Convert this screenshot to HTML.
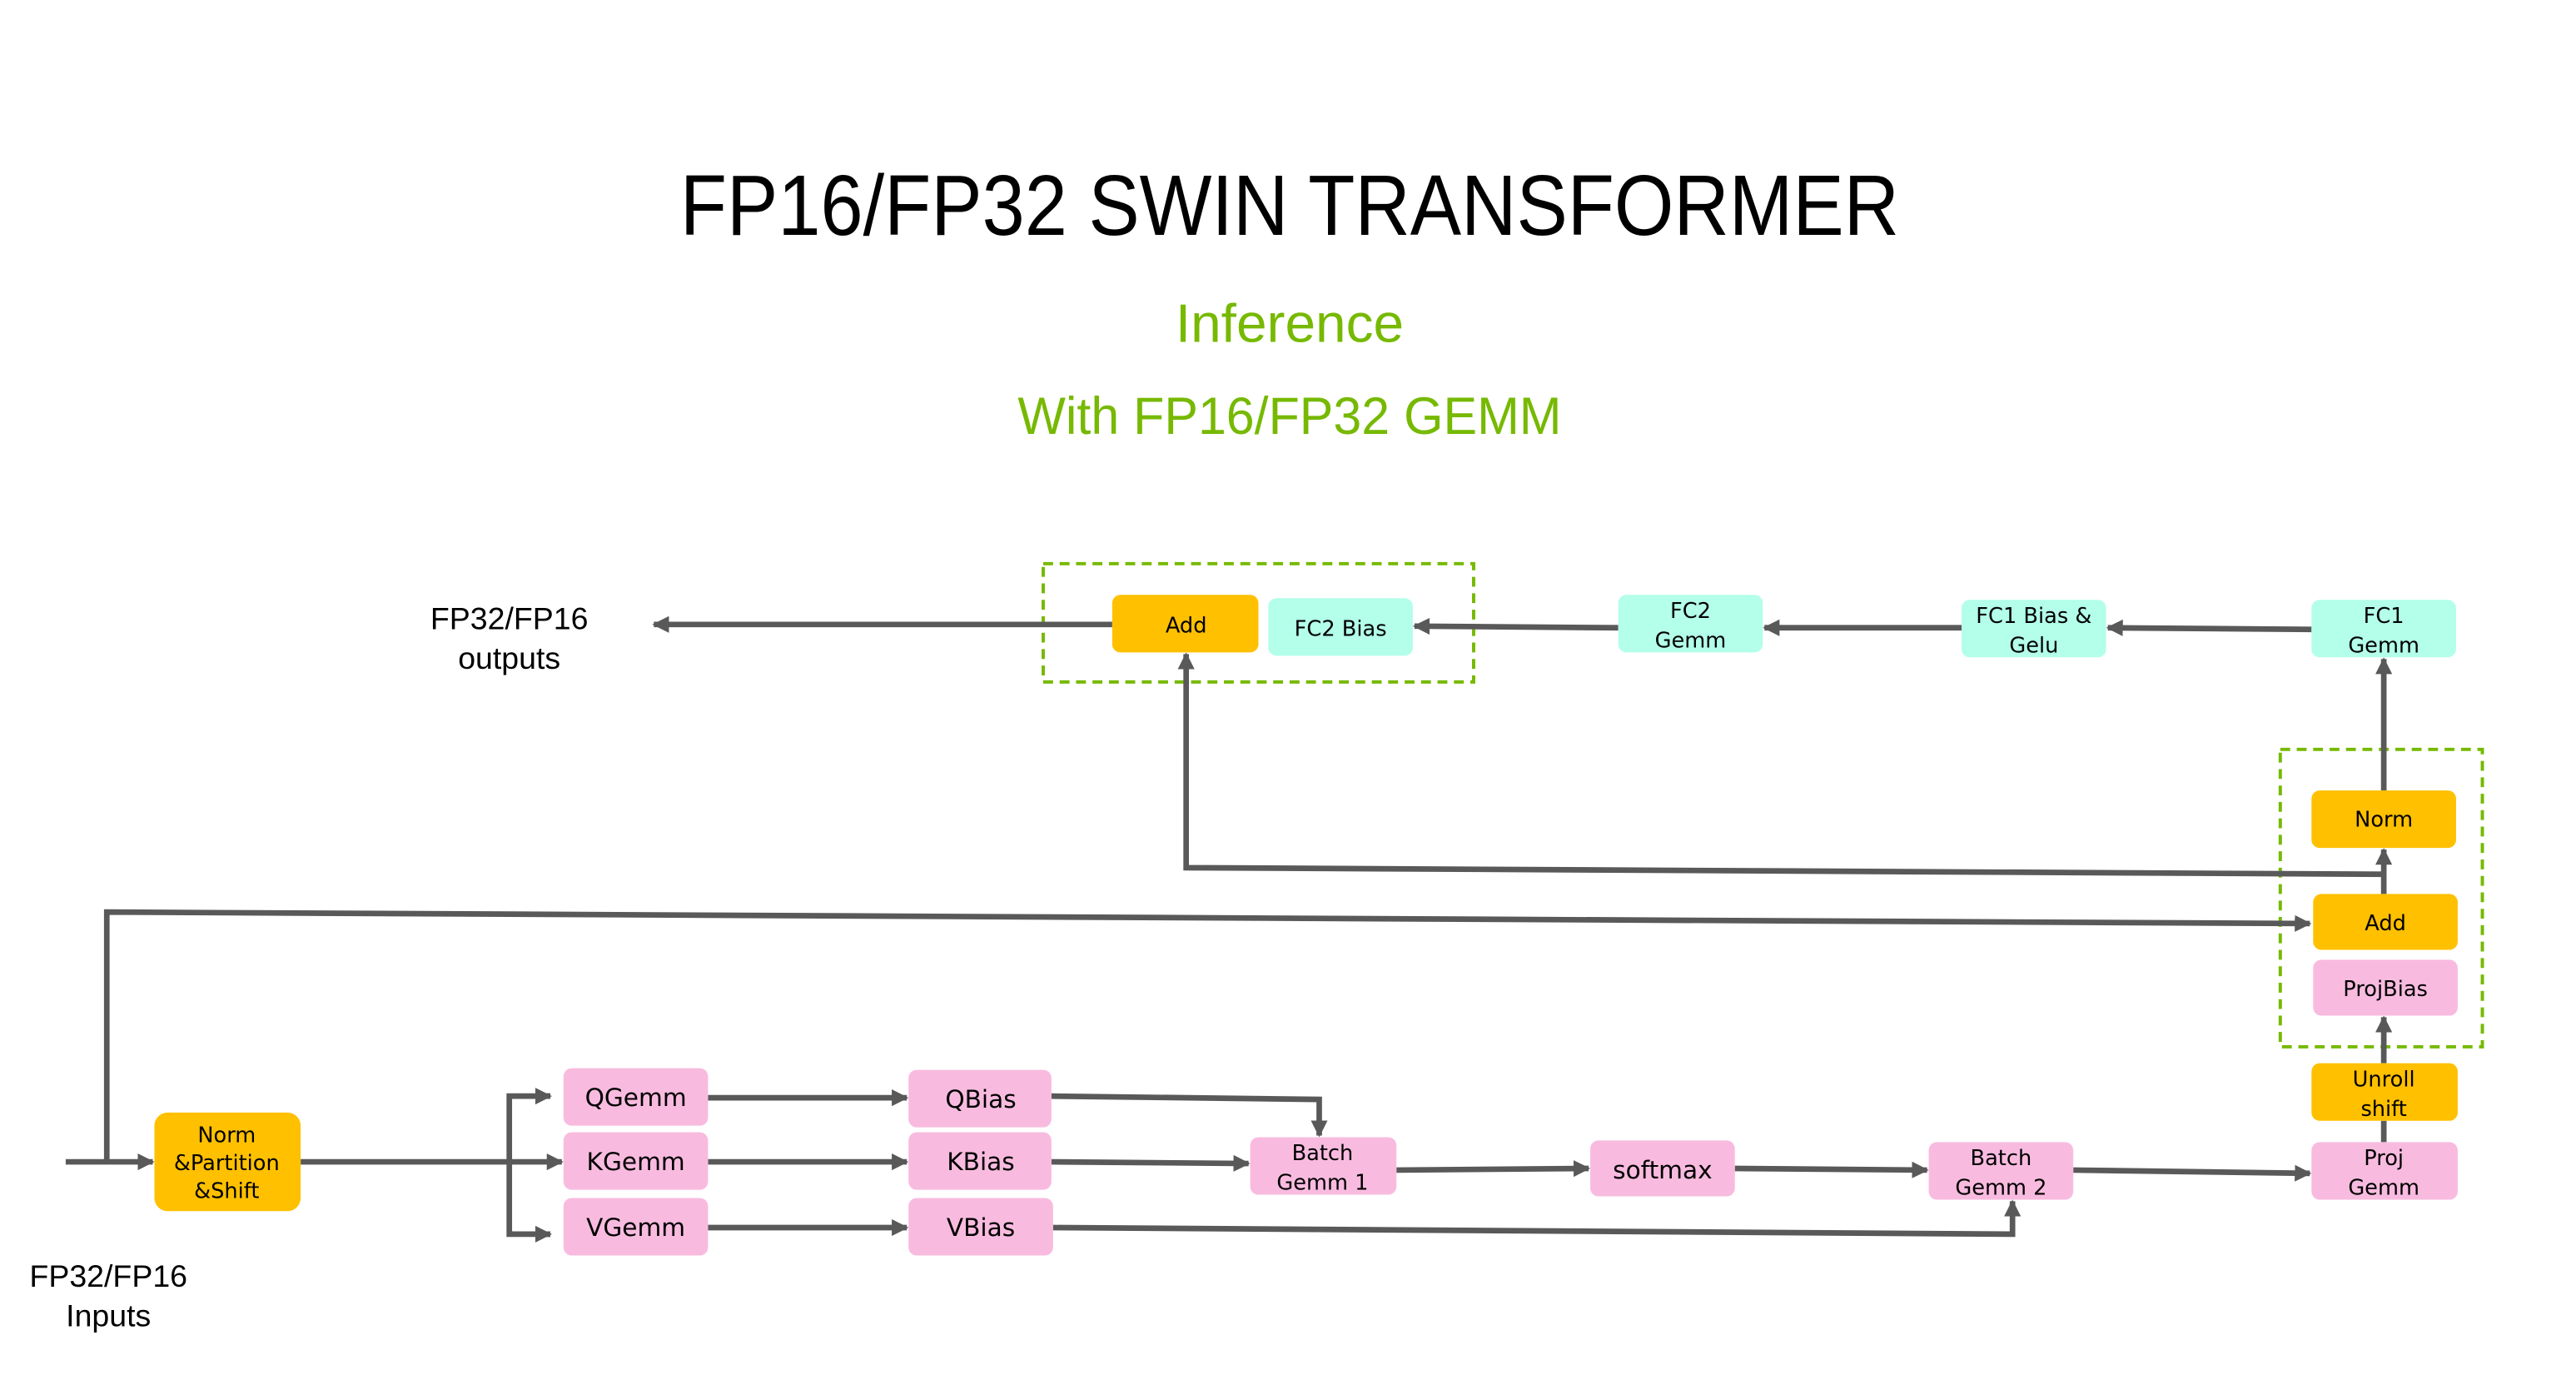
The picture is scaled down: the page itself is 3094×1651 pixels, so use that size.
<!DOCTYPE html>
<html><head><meta charset="utf-8"><style>
html,body{margin:0;padding:0;background:#fff;}
svg{display:block;}
text{font-family:"DejaVu Sans","Liberation Sans",sans-serif;fill:#000;}
</style></head><body>
<svg width="3094" height="1651" viewBox="0 0 1568 836.7" preserveAspectRatio="none" xmlns="http://www.w3.org/2000/svg">
<defs>
<marker id="a" viewBox="0 0 10 10" refX="9" refY="5" markerWidth="3" markerHeight="3" orient="auto" markerUnits="strokeWidth">
<path d="M0,0 L10,5 L0,10 z" fill="#595959"/></marker>
</defs>
<rect width="1568" height="836.7" fill="#fff"/>
<text x="785" y="143" font-size="52" text-anchor="middle" textLength="742" lengthAdjust="spacingAndGlyphs" style="font-family:'Liberation Sans',sans-serif">FP16/FP32 SWIN TRANSFORMER</text>
<text x="785" y="208" font-size="33" text-anchor="middle" textLength="139" lengthAdjust="spacingAndGlyphs" style="fill:#76B900;font-family:'Liberation Sans',sans-serif">Inference</text>
<text x="785" y="264" font-size="32" text-anchor="middle" textLength="331" lengthAdjust="spacingAndGlyphs" style="fill:#76B900;font-family:'Liberation Sans',sans-serif">With FP16/FP32 GEMM</text>
<g font-size="19" text-anchor="middle">
<text x="310" y="383" style="font-family:'Liberation Sans',sans-serif">FP32/FP16</text>
<text x="310" y="407" style="font-family:'Liberation Sans',sans-serif">outputs</text>
<text x="66" y="783" style="font-family:'Liberation Sans',sans-serif">FP32/FP16</text>
<text x="66" y="807" style="font-family:'Liberation Sans',sans-serif">Inputs</text>
</g>
<g fill="none" stroke="#76B900" stroke-width="2" stroke-dasharray="6,4">
<rect x="635" y="343" width="262" height="72"/>
<rect x="1388" y="456" width="123" height="181"/>
</g>
<g fill="none" stroke="#595959" stroke-width="3.4">
<line x1="40" y1="707" x2="93" y2="707" marker-end="url(#a)"/>
<polyline points="65,707 65,555 1406,562" marker-end="url(#a)"/>
<line x1="183" y1="707" x2="342" y2="707" marker-end="url(#a)"/>
<polyline points="335,667 310,667 310,751 335,751" />
<line x1="326" y1="667" x2="335" y2="667" marker-end="url(#a)"/>
<line x1="326" y1="751" x2="335" y2="751" marker-end="url(#a)"/>
<line x1="431" y1="668" x2="552" y2="668" marker-end="url(#a)"/>
<line x1="431" y1="707" x2="552" y2="707" marker-end="url(#a)"/>
<line x1="431" y1="747" x2="552" y2="747" marker-end="url(#a)"/>
<polyline points="640,667 803,669 803,691" marker-end="url(#a)"/>
<line x1="640" y1="707" x2="760" y2="708" marker-end="url(#a)"/>
<line x1="850" y1="712" x2="967" y2="711" marker-end="url(#a)"/>
<line x1="1056" y1="711" x2="1173" y2="712" marker-end="url(#a)"/>
<polyline points="641,747 1225,751 1225,731" marker-end="url(#a)"/>
<line x1="1262" y1="712" x2="1406" y2="714" marker-end="url(#a)"/>
<line x1="1451" y1="695" x2="1451" y2="682"/>
<line x1="1451" y1="647" x2="1451" y2="619" marker-end="url(#a)"/>
<line x1="1451" y1="544" x2="1451" y2="517" marker-end="url(#a)"/>
<polyline points="1451,532 722,528 722,398" marker-end="url(#a)"/>
<line x1="1451" y1="481" x2="1451" y2="401" marker-end="url(#a)"/>
<line x1="1407" y1="383" x2="1283" y2="382" marker-end="url(#a)"/>
<line x1="1194" y1="382" x2="1074" y2="382" marker-end="url(#a)"/>
<line x1="985" y1="382" x2="861" y2="381" marker-end="url(#a)"/>
<line x1="677" y1="380" x2="398" y2="380" marker-end="url(#a)"/>
</g>
<g>
<rect x="94" y="677" width="89" height="60" rx="8" fill="#FFC000"/>
<rect x="343" y="650" width="88" height="35" rx="5" fill="#F8BBDF"/>
<rect x="343" y="689" width="88" height="35" rx="5" fill="#F8BBDF"/>
<rect x="343" y="729" width="88" height="35" rx="5" fill="#F8BBDF"/>
<rect x="553" y="651" width="87" height="35" rx="5" fill="#F8BBDF"/>
<rect x="553" y="689" width="87" height="35" rx="5" fill="#F8BBDF"/>
<rect x="553" y="729" width="88" height="35" rx="5" fill="#F8BBDF"/>
<rect x="761" y="692" width="89" height="35" rx="5" fill="#F8BBDF"/>
<rect x="968" y="694" width="88" height="34" rx="5" fill="#F8BBDF"/>
<rect x="1174" y="695" width="88" height="35" rx="5" fill="#F8BBDF"/>
<rect x="1407" y="695" width="89" height="35" rx="5" fill="#F8BBDF"/>
<rect x="1407" y="647" width="89" height="35" rx="5" fill="#FFC000"/>
<rect x="1408" y="584" width="88" height="34" rx="5" fill="#F8BBDF"/>
<rect x="1408" y="544" width="88" height="34" rx="5" fill="#FFC000"/>
<rect x="1407" y="481" width="88" height="35" rx="5" fill="#FFC000"/>
<rect x="1407" y="365" width="88" height="35" rx="5" fill="#B3FFE9"/>
<rect x="1194" y="365" width="88" height="35" rx="5" fill="#B3FFE9"/>
<rect x="985" y="362" width="88" height="35" rx="5" fill="#B3FFE9"/>
<rect x="772" y="364" width="88" height="35" rx="5" fill="#B3FFE9"/>
<rect x="677" y="362" width="89" height="35" rx="5" fill="#FFC000"/>
</g>
<g font-size="13" text-anchor="middle">
<text x="138" y="695">Norm</text>
<text x="138" y="712">&amp;Partition</text>
<text x="138" y="729">&amp;Shift</text>
<text x="387" y="673" font-size="15">QGemm</text>
<text x="387" y="712" font-size="15">KGemm</text>
<text x="387" y="752" font-size="15">VGemm</text>
<text x="597" y="674" font-size="15">QBias</text>
<text x="597" y="712" font-size="15">KBias</text>
<text x="597" y="752" font-size="15">VBias</text>
<text x="805" y="706">Batch</text>
<text x="805" y="724">Gemm 1</text>
<text x="1012" y="717" font-size="15">softmax</text>
<text x="1218" y="709">Batch</text>
<text x="1218" y="727">Gemm 2</text>
<text x="1451" y="709">Proj</text>
<text x="1451" y="727">Gemm</text>
<text x="1451" y="661">Unroll</text>
<text x="1451" y="679">shift</text>
<text x="1452" y="606">ProjBias</text>
<text x="1452" y="566">Add</text>
<text x="1451" y="503">Norm</text>
<text x="1451" y="379">FC1</text>
<text x="1451" y="397">Gemm</text>
<text x="1238" y="379">FC1 Bias &amp;</text>
<text x="1238" y="397">Gelu</text>
<text x="1029" y="376">FC2</text>
<text x="1029" y="394">Gemm</text>
<text x="816" y="387">FC2 Bias</text>
<text x="722" y="385">Add</text>
</g>
</svg>
</body></html>
